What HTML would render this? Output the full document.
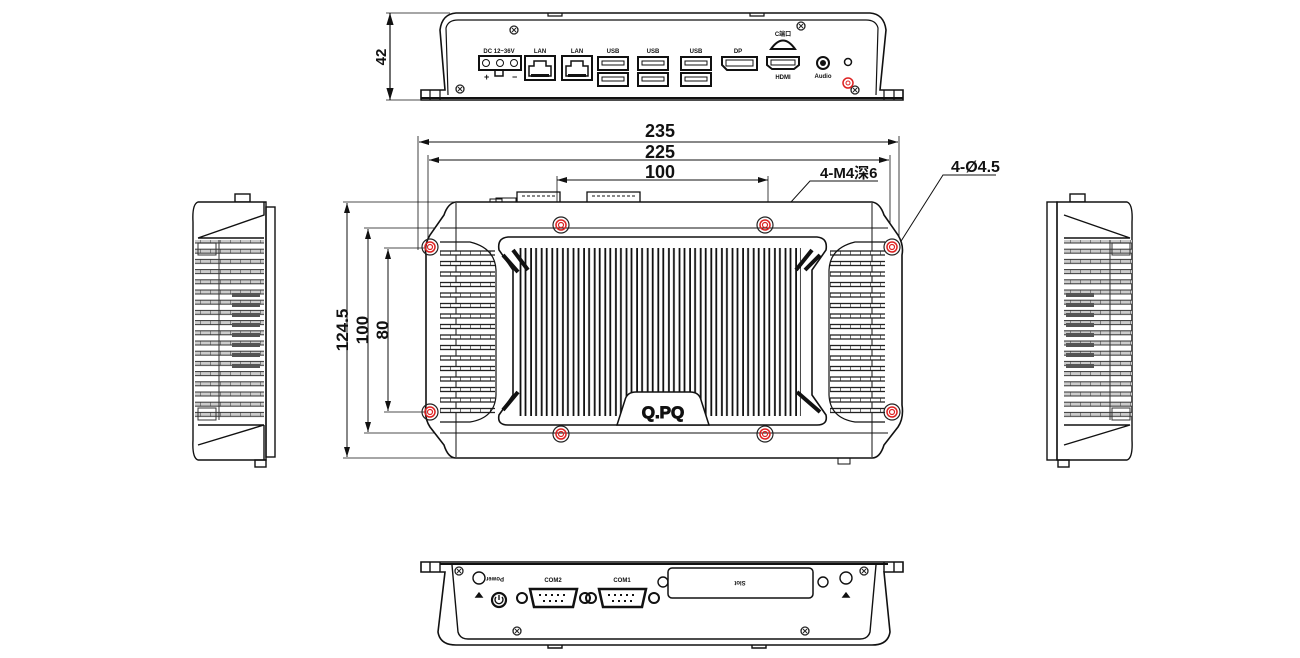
<!DOCTYPE html>
<html><head><meta charset="utf-8"><style>
html,body{margin:0;padding:0;background:#fff;}
svg{display:block;}
text{font-family:"Liberation Sans","Noto Sans CJK SC",sans-serif;font-weight:bold;fill:#111;}
</style></head><body>
<svg width="1300" height="658" viewBox="0 0 1300 658" xmlns="http://www.w3.org/2000/svg">
<defs>
<marker id="ar" viewBox="0 0 10 6" refX="10" refY="3" markerWidth="10" markerHeight="6" orient="auto-start-reverse"><path d="M0,0 L10,3 L0,6 z" fill="#111"/></marker>
<pattern id="vf" x="519" y="0" width="10.6" height="658" patternUnits="userSpaceOnUse"><rect x="1.5" y="0" width="5" height="658" fill="#fff" stroke="#111" stroke-width="1.8"/></pattern>
<pattern id="hf" x="0" y="250" width="10" height="10.5" patternUnits="userSpaceOnUse"><rect x="0" y="1" width="100" height="4" fill="#fff" stroke="#222" stroke-width="1.3"/></pattern>
<pattern id="sf" x="0" y="238" width="10" height="10.2" patternUnits="userSpaceOnUse"><rect x="0" y="1" width="100" height="4" fill="#ccc" stroke="#333" stroke-width="1"/></pattern>
<g id="hole"><circle r="8" fill="none" stroke="#222" stroke-width="1.2"/><circle r="5" fill="none" stroke="#d22" stroke-width="1.5"/><circle r="2.5" fill="none" stroke="#d22" stroke-width="1.2"/></g>
<g id="scr"><circle r="4" fill="none" stroke="#222" stroke-width="1.3"/><path d="M-2,-2 L2,2 M-2,2 L2,-2" stroke="#222"/></g>
<g id="usb"><rect x="0" y="0" width="30" height="13" fill="#fff" stroke="#111" stroke-width="2"/><rect x="4" y="4" width="22" height="4" fill="none" stroke="#111"/></g>
<g id="lan"><rect x="0" y="0" width="30" height="24" fill="#fff" stroke="#111" stroke-width="2"/><path d="M4,20 V10 H9 V5 H21 V10 H26 V20 Z" fill="none" stroke="#111" stroke-width="1.5"/><rect x="6" y="18" width="18" height="3" fill="#111"/></g>
<g id="db9"><circle cx="-8" cy="11" r="5" fill="none" stroke="#111" stroke-width="2"/><circle cx="55" cy="11" r="5" fill="none" stroke="#111" stroke-width="2"/><path d="M0,2 H47 L43,20 H4 Z" fill="#fff" stroke="#111" stroke-width="2.5"/><path d="M9,8 h30 M13,14 h22" stroke="#111" stroke-dasharray="2 4" stroke-width="2"/></g>
</defs>

<!-- ============ TOP (rear panel) VIEW ============ -->
<g stroke="#111" fill="none" stroke-width="1.2">
<line x1="390" y1="13" x2="390" y2="100" marker-start="url(#ar)" marker-end="url(#ar)"/>
<line x1="386" y1="13" x2="450" y2="13" stroke-width="0.8"/>
<line x1="386" y1="100" x2="420" y2="100" stroke-width="0.8"/>
<path d="M421,100 V90 H445 L440,30 Q442,14 456,13 H870 Q884,14 886,30 L880,90 H903 V100 Z" stroke-width="1.6"/>
<path d="M448,95 L446,28 Q448,20 458,20 H866 Q876,20 878,28 L876,95" stroke-width="1.2"/>
<path d="M440,90 V100 M430,90 V100 M884,90 V100 M894,90 V100"/>
<line x1="421" y1="98" x2="903" y2="98" stroke-width="2"/>
<path d="M548,13 v3 h14 v-3 M750,13 v3 h14 v-3"/>
</g>
<use href="#scr" x="514" y="30"/><use href="#scr" x="460" y="89"/><use href="#scr" x="801" y="26"/><use href="#scr" x="855" y="90"/>
<text x="0" y="0" font-size="15" transform="translate(386,57) rotate(-90)" text-anchor="middle">42</text>
<text x="499" y="53" font-size="6" text-anchor="middle">DC 12~36V</text>
<rect x="479" y="56" width="42" height="14" fill="#fff" stroke="#111" stroke-width="2"/>
<circle cx="486" cy="63" r="3.5" fill="none" stroke="#111"/><circle cx="500" cy="63" r="3.5" fill="none" stroke="#111"/><circle cx="514" cy="63" r="3.5" fill="none" stroke="#111"/>
<rect x="495" y="70" width="8" height="6" fill="none" stroke="#111" stroke-width="1.5"/>
<text x="484" y="80" font-size="9">+</text><text x="512" y="80" font-size="9">−</text>
<text x="540" y="53" font-size="6" text-anchor="middle">LAN</text><use href="#lan" x="525" y="56"/>
<text x="577" y="53" font-size="6" text-anchor="middle">LAN</text><use href="#lan" x="562" y="56"/>
<text x="613" y="53" font-size="6" text-anchor="middle">USB</text><use href="#usb" x="598" y="57"/><use href="#usb" x="598" y="73"/>
<text x="653" y="53" font-size="6" text-anchor="middle">USB</text><use href="#usb" x="638" y="57"/><use href="#usb" x="638" y="73"/>
<text x="696" y="53" font-size="6" text-anchor="middle">USB</text><use href="#usb" x="681" y="57"/><use href="#usb" x="681" y="73"/>
<text x="738" y="53" font-size="6" text-anchor="middle">DP</text>
<path d="M722,57 H757 V70 H727 L722,65 Z" fill="#fff" stroke="#111" stroke-width="2"/><rect x="726" y="60" width="27" height="6" fill="none" stroke="#111"/>
<text x="783" y="36" font-size="6" text-anchor="middle">C端口</text>
<path d="M771,49 Q783,32 795,49 Z" fill="#fff" stroke="#111" stroke-width="2"/>
<path d="M767,57 H799 V65 L794,69 H772 L767,65 Z" fill="#fff" stroke="#111" stroke-width="2"/><rect x="771" y="60" width="24" height="5" fill="none" stroke="#111"/>
<text x="783" y="79" font-size="6" text-anchor="middle">HDMI</text>
<circle cx="823" cy="63" r="6" fill="none" stroke="#111" stroke-width="2"/><circle cx="823" cy="63" r="3" fill="#111"/>
<text x="823" y="78" font-size="6" text-anchor="middle">Audio</text>
<circle cx="848" cy="62" r="3.5" fill="none" stroke="#111" stroke-width="1.5"/>
<circle cx="848" cy="83" r="5" fill="none" stroke="#d22" stroke-width="1.5"/><circle cx="848" cy="83" r="2" fill="none" stroke="#d22"/>

<!-- ============ MAIN VIEW ============ -->
<g stroke="#111" fill="none" stroke-width="1">
<line x1="419" y1="142" x2="898" y2="142" marker-start="url(#ar)" marker-end="url(#ar)"/>
<line x1="429" y1="160" x2="889" y2="160" marker-start="url(#ar)" marker-end="url(#ar)"/>
<line x1="557" y1="180" x2="768" y2="180" marker-start="url(#ar)" marker-end="url(#ar)"/>
<line x1="418" y1="136" x2="418" y2="250" stroke-width="0.8"/>
<line x1="899" y1="136" x2="899" y2="250" stroke-width="0.8"/>
<line x1="428" y1="155" x2="428" y2="250" stroke-width="0.8"/>
<line x1="890" y1="155" x2="890" y2="250" stroke-width="0.8"/>
<line x1="557" y1="176" x2="557" y2="228" stroke-width="0.8"/>
<line x1="768" y1="176" x2="768" y2="228" stroke-width="0.8"/>
<line x1="347" y1="203" x2="347" y2="457" marker-start="url(#ar)" marker-end="url(#ar)"/>
<line x1="368" y1="229" x2="368" y2="432" marker-start="url(#ar)" marker-end="url(#ar)"/>
<line x1="388" y1="249" x2="388" y2="411" marker-start="url(#ar)" marker-end="url(#ar)"/>
<line x1="343" y1="202" x2="455" y2="202" stroke-width="0.8"/>
<line x1="343" y1="458" x2="455" y2="458" stroke-width="0.8"/>
<line x1="364" y1="228" x2="561" y2="228" stroke-width="0.8"/>
<line x1="364" y1="433" x2="561" y2="433" stroke-width="0.8"/>
<line x1="384" y1="248" x2="430" y2="248" stroke-width="0.8"/>
<line x1="384" y1="412" x2="430" y2="412" stroke-width="0.8"/>
<polyline points="878,181 810,181 752,245"/>
<polyline points="996,175 943,175 884,268"/>
<path d="M456,202 H872 Q880,203 884,215 L898,235 Q904,245 902,255 V405 Q904,418 898,427 L884,445 Q880,458 872,458 H456 Q448,458 444,445 L430,427 Q424,418 426,405 V255 Q424,245 430,235 L444,215 Q448,203 456,202 Z" stroke-width="1.6" fill="#fff"/>
<line x1="456" y1="203" x2="456" y2="457"/><line x1="872" y1="203" x2="872" y2="457"/>
<line x1="440" y1="228" x2="888" y2="228"/>
<line x1="440" y1="433" x2="888" y2="433"/>
<path d="M496,202 v-4 h20 v4 M490,202 v-3 h12 v3"/>
<path d="M517,202 V192 H560 V202 M587,202 V192 H640 V202" stroke-width="1.3"/>
<path d="M522,196 h33 M592,196 h43" stroke-dasharray="3 2"/>
<path d="M838,458 v6 h12 v-6"/>
</g>
<rect x="440" y="250" width="55" height="165" fill="url(#hf)"/>
<rect x="830" y="250" width="55" height="165" fill="url(#hf)"/>
<path d="M440,242 L470,242 Q495,248 496,270 V395 Q495,418 470,422 L440,422" fill="none" stroke="#111" stroke-width="1.2"/>
<path d="M885,242 L855,242 Q830,248 829,270 V395 Q830,418 855,422 L885,422" fill="none" stroke="#111" stroke-width="1.2"/>
<path d="M508,237 H817 Q828,238 826,250 L812,270 V395 L826,415 Q828,425 817,425 H508 Q497,425 499,415 L513,395 V270 L499,250 Q497,238 508,237 Z" fill="#fff" stroke="#111" stroke-width="1.6"/>
<rect x="519" y="248" width="282" height="168" fill="url(#vf)"/>
<path d="M503,255 L518,272 M513,250 L528,270 M805,270 L820,255 M796,270 L812,250 M503,410 L518,392 M797,392 L820,412" stroke="#111" stroke-width="4" fill="none"/>
<path d="M617,425 L625,400 Q627,392 636,392 H690 Q699,392 701,400 L709,425 Z" fill="#fff" stroke="#111" stroke-width="1.5"/>
<text x="663" y="418" font-size="17" text-anchor="middle" font-weight="normal" fill="#fff" stroke="#111" stroke-width="1">Q.PQ</text>
<use href="#hole" x="430" y="247"/><use href="#hole" x="430" y="412"/><use href="#hole" x="892" y="247"/><use href="#hole" x="892" y="412"/>
<use href="#hole" x="561" y="225"/><use href="#hole" x="765" y="225"/><use href="#hole" x="561" y="434"/><use href="#hole" x="765" y="434"/>
<text x="660" y="137" font-size="18" text-anchor="middle">235</text>
<text x="660" y="158" font-size="18" text-anchor="middle">225</text>
<text x="660" y="178" font-size="18" text-anchor="middle">100</text>
<text x="820" y="178" font-size="15">4-M4深6</text>
<text x="951" y="172" font-size="16">4-Ø4.5</text>
<text font-size="17" text-anchor="middle" transform="translate(348,330) rotate(-90)">124.5</text>
<text font-size="17" text-anchor="middle" transform="translate(368,330) rotate(-90)">100</text>
<text font-size="17" text-anchor="middle" transform="translate(388,330) rotate(-90)">80</text>

<!-- ============ LEFT SIDE VIEW ============ -->
<g stroke="#111" fill="none" stroke-width="1.4">
<rect x="235" y="194" width="15" height="8"/>
<path d="M198,202 H266 V460 H198 Q192,458 193,440 V222 Q192,204 198,202 Z" fill="#fff"/>
<rect x="266" y="207" width="9" height="250"/>
<path d="M198,238 L264,215 V202 M198,238 H264 M198,425 H264 L198,445 M264,425 V460"/>
<rect x="255" y="460" width="11" height="7"/>
</g>
<rect x="195" y="240" width="69" height="182" fill="url(#sf)"/>
<g stroke="#333" fill="none"><line x1="219" y1="240" x2="219" y2="420"/><rect x="198" y="243" width="18" height="12"/><rect x="198" y="408" width="18" height="12"/></g>
<g fill="#555"><rect x="232" y="293" width="28" height="4"/><rect x="232" y="303" width="28" height="4"/><rect x="232" y="313" width="28" height="4"/><rect x="232" y="323" width="28" height="4"/><rect x="232" y="333" width="28" height="4"/><rect x="232" y="343" width="28" height="4"/><rect x="232" y="353" width="28" height="4"/><rect x="232" y="364" width="28" height="4"/></g>

<!-- ============ RIGHT SIDE VIEW ============ -->
<g stroke="#111" fill="none" stroke-width="1.4">
<rect x="1070" y="194" width="15" height="8"/>
<path d="M1057,202 H1127 Q1133,204 1132,222 V440 Q1133,458 1127,460 H1057 Z" fill="#fff"/>
<rect x="1047" y="202" width="10" height="258"/>
<path d="M1130,238 L1064,215 M1064,238 H1130 M1064,425 H1130 L1064,445"/>
<rect x="1058" y="460" width="11" height="7"/>
</g>
<rect x="1064" y="240" width="68" height="182" fill="url(#sf)"/>
<g stroke="#333" fill="none"><line x1="1110" y1="240" x2="1110" y2="420"/><rect x="1112" y="243" width="18" height="12"/><rect x="1112" y="408" width="18" height="12"/></g>
<g fill="#555"><rect x="1066" y="293" width="28" height="4"/><rect x="1066" y="303" width="28" height="4"/><rect x="1066" y="313" width="28" height="4"/><rect x="1066" y="323" width="28" height="4"/><rect x="1066" y="333" width="28" height="4"/><rect x="1066" y="343" width="28" height="4"/><rect x="1066" y="353" width="28" height="4"/><rect x="1066" y="364" width="28" height="4"/></g>

<!-- ============ BOTTOM (front panel) VIEW ============ -->
<g stroke="#111" fill="none" stroke-width="1.4">
<path d="M421,562 H903 V572 H884 L890,632 Q888,645 872,645 H456 Q440,645 438,632 L445,572 H421 Z" fill="#fff" stroke-width="1.6"/>
<path d="M430,562 v10 M440,562 v10 M884,562 v10 M894,562 v10"/>
<path d="M452,565 L458,632 Q460,639 468,639 H860 Q868,639 870,632 L876,565"/>
<line x1="440" y1="564" x2="888" y2="564" stroke-width="2"/>
<path d="M548,645 v3 h14 v-3 M752,645 v3 h14 v-3"/>
<circle cx="479" cy="578" r="6"/><circle cx="846" cy="578" r="6"/>
<path d="M476,597 l3,-4 l3,4 z M843,597 l3,-4 l3,4 z" fill="#111"/>
<circle cx="499" cy="600" r="7" stroke-width="2.2"/><path d="M499,595 v5 M496,597 a4,4 0 1 0 6,0"/>
<circle cx="663" cy="582" r="5"/><circle cx="823" cy="582" r="5"/>
<rect x="668" y="568" width="145" height="30" rx="4" fill="#fff" stroke-width="1.5"/>
</g>
<use href="#scr" x="459" y="571"/><use href="#scr" x="864" y="571"/><use href="#scr" x="517" y="631"/><use href="#scr" x="805" y="631"/>
<use href="#db9" x="530" y="587"/><use href="#db9" x="599" y="587"/>
<text x="553" y="582" font-size="6" text-anchor="middle">COM2</text>
<text x="622" y="582" font-size="6" text-anchor="middle">COM1</text>
<text x="505" y="581" font-size="6" text-anchor="middle" transform="rotate(180,500,579)">Power</text>
<text x="740" y="585" font-size="6" text-anchor="middle" transform="rotate(180,740,583)">Slot</text>
</svg>
</body></html>
